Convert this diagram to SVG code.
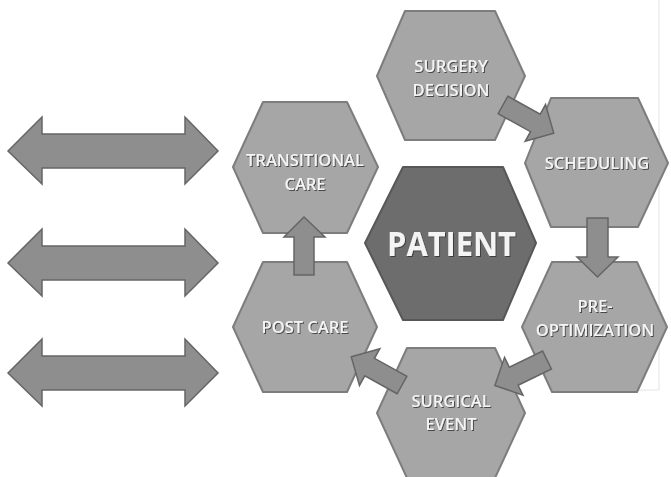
<svg xmlns="http://www.w3.org/2000/svg" width="671" height="477" viewBox="0 0 671 477">
<defs>
<filter id="sh" x="-10%" y="-20%" width="130%" height="150%">
<feDropShadow dx="1" dy="1" stdDeviation="0.6" flood-color="#333" flood-opacity="0.8"/>
</filter>
<polygon id="blk" points="0,-10 37,-10 37,-21 58,0 37,21 37,10 0,10"/>
</defs>
<style>
.hex{fill:#a6a6a6;stroke:#7d7d7d;stroke-width:2;stroke-linejoin:round}
.pat{fill:#6d6d6d;stroke:#575757;stroke-width:2;stroke-linejoin:round}
.arr{fill:#8e8e8e;stroke:#656565;stroke-width:1.5;stroke-linejoin:miter}
.t{font-family:"Open Sans","Liberation Sans",sans-serif;font-weight:600;fill:#f4f4f4;text-anchor:middle;filter:url(#sh)}
.s{font-size:16.5px}
.p{font-size:34px;font-weight:700}
</style>
<rect width="671" height="477" fill="#ffffff"/>
<path d="M659,0 V390 H607" fill="none" stroke="#e4e4e4" stroke-width="1"/>
<g id="surgery-decision">
<polygon class="hex" points="377,76 405,11 495,11 525,76 495,140 405,140"/>
<text class="t s" x="451" y="72">SURGERY</text>
<text class="t s" x="451" y="96">DECISION</text>
</g>
<g id="scheduling">
<polygon class="hex" points="525,163 551,98 638,98 668,163 638,227 551,227"/>
<text class="t s" x="597" y="169">SCHEDULING</text>
</g>
<g id="transitional-care">
<polygon class="hex" points="233,167 263,102 347,102 378,167 347,233 263,233"/>
<text class="t s" x="305" y="166">TRANSITIONAL</text>
<text class="t s" x="305" y="190">CARE</text>
</g>
<g id="post-care">
<polygon class="hex" points="233,327 263,262 347,262 377,327 347,392 263,392"/>
<text class="t s" x="305" y="333">POST CARE</text>
</g>
<g id="pre-optimization">
<polygon class="hex" points="522,327 552,262 637,262 667,327 637,392 552,392"/>
<text class="t s" x="595" y="312">PRE-</text>
<text class="t s" x="595" y="336">OPTIMIZATION</text>
</g>
<g id="surgical-event">
<polygon class="hex" points="377,413 407,348 495,348 525,413 495,478 407,478"/>
<text class="t s" x="451" y="407">SURGICAL</text>
<text class="t s" x="451" y="430">EVENT</text>
</g>
<g id="patient">
<polygon class="pat" points="365,243 403,167 503,167 536,243 503,320 403,320"/>
<text class="t p" x="451.5" y="256" textLength="129" lengthAdjust="spacingAndGlyphs">PATIENT</text>
</g>
<g id="connectors">
<use href="#blk" class="arr" transform="translate(503,105) rotate(29)"/>
<polygon class="arr" points="587,218 608,218 608,257 618,257 597.5,277 577,257 587,257"/>
<use href="#blk" class="arr" transform="translate(547,360) rotate(154)"/>
<use href="#blk" class="arr" transform="translate(402,385) rotate(209)"/>
<polygon class="arr" points="294,275 314,275 314,237 325,237 304,217 284,237 294,237"/>
</g>
<g id="side-arrows">
<polygon class="arr" points="8,151 42,117 42,134 185,134 185,117 218,151 185,184 185,168 42,168 42,184"/>
<polygon class="arr" points="8,263 42,229 42,246 185,246 185,229 218,263 185,296 185,280 42,280 42,296"/>
<polygon class="arr" points="8,373 42,339 42,356 185,356 185,339 218,373 185,406 185,390 42,390 42,406"/>
</g>
</svg>
